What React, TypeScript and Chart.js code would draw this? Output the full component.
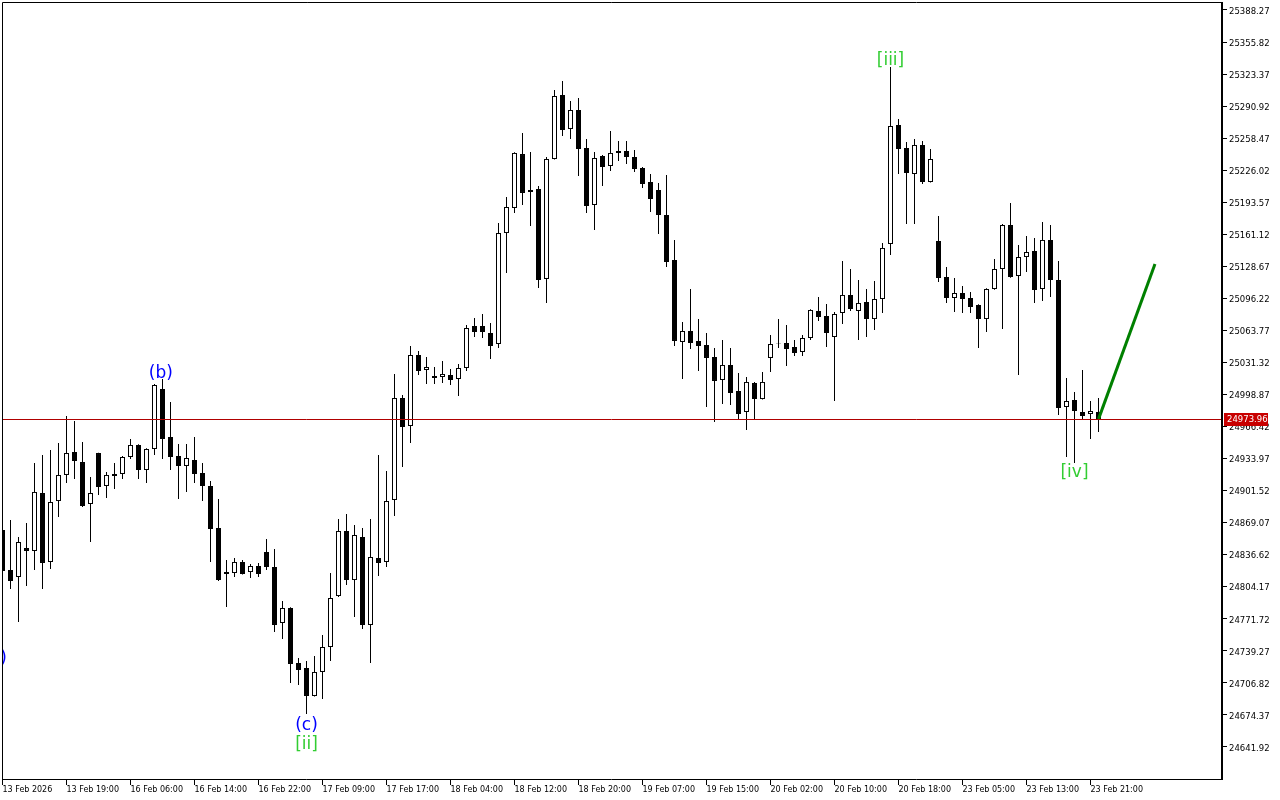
import React, { useEffect, useRef } from 'react';
import { Chart, registerables } from 'chart.js';
Chart.register(...registerables);

// Hourly candles, index 0 .. 137
const opens = [
  24861.7, 24821.2, 24814.1, 24843.4, 24840.4, 24899.1, 24829.3, 24891.0, 24917.4, 24940.7,
  24930.5, 24888.0, 24939.6, 24906.2, 24918.4, 24918.4, 24935.6, 24947.8, 24922.4, 24943.7,
  25004.5, 24955.9, 24936.6, 24926.5, 24932.6, 24919.4, 24906.2, 24863.7, 24817.1, 24818.1,
  24829.3, 24819.1, 24825.2, 24839.4, 24824.2, 24767.5, 24782.7, 24727.0, 24721.9, 24693.6,
  24717.9, 24743.2, 24794.8, 24860.7, 24811.0, 24854.6, 24765.5, 24833.3, 24829.3, 24892.1,
  24995.3, 24967.0, 25038.9, 25023.7, 25017.6, 25016.6, 25018.6, 25014.6, 25025.7, 25068.3,
  25068.3, 25061.2, 25050.0, 25162.4, 25187.8, 25242.4, 25206.0, 25207.0, 25115.9, 25237.4,
  25302.2, 25267.8, 25287.0, 25248.5, 25190.8, 25240.4, 25230.3, 25243.5, 25245.5, 25239.4,
  25228.3, 25214.1, 25206.0, 25180.7, 25135.1, 25052.1, 25063.2, 25053.1, 25049.0, 25036.9,
  25013.6, 25028.8, 25002.4, 24981.2, 25010.5, 24994.3, 25035.9, 25051.0, 25051.0, 25047.0,
  25041.9, 25056.1, 25083.5, 25078.4, 25057.1, 25081.4, 25099.7, 25083.5, 25092.6, 25075.3,
  25095.6, 25151.3, 25271.8, 25248.5, 25222.2, 25251.6, 25214.1, 25154.3, 25117.9, 25096.6,
  25101.7, 25096.6, 25089.5, 25075.3, 25105.7, 25126.0, 25170.5, 25118.9, 25138.1, 25144.2,
  25105.7, 25155.4, 25114.8, 24986.2, 24993.3, 24981.2, 24979.1, 24981.2,
];
const highs = [
  24866.7, 24871.8, 24854.6, 24868.8, 24929.5, 24937.6, 24942.7, 24949.8, 24977.1, 24972.1,
  24950.8, 24915.3, 24940.0, 24920.4, 24929.5, 24936.5, 24953.8, 24948.5, 24944.5, 25009.5,
  25014.6, 24991.3, 24948.8, 24948.8, 24955.9, 24929.5, 24911.3, 24893.1, 24831.3, 24833.3,
  24831.3, 24827.2, 24828.3, 24852.6, 24842.4, 24789.8, 24783.5, 24732.0, 24729.0, 24734.1,
  24755.3, 24818.1, 24872.8, 24877.9, 24866.7, 24863.7, 24872.8, 24937.6, 24921.4, 25019.7,
  24998.4, 25048.0, 25042.9, 25036.9, 25026.7, 25032.8, 25024.7, 25029.8, 25069.3, 25076.4,
  25080.4, 25071.3, 25172.6, 25198.9, 25244.3, 25263.7, 25244.5, 25210.0, 25239.4, 25307.3,
  25316.4, 25296.1, 25299.2, 25257.6, 25244.5, 25241.4, 25265.7, 25255.6, 25255.6, 25246.5,
  25229.3, 25222.2, 25213.1, 25221.2, 25155.4, 25072.3, 25105.7, 25075.3, 25061.2, 25046.0,
  25054.1, 25046.0, 25020.7, 25016.6, 25011.6, 25021.7, 25059.1, 25075.3, 25069.3, 25054.1,
  25059.1, 25085.3, 25097.6, 25090.5, 25082.4, 25134.1, 25126.0, 25114.8, 25105.7, 25113.8,
  25152.3, 25330.6, 25277.9, 25254.6, 25257.6, 25255.6, 25247.5, 25179.7, 25128.0, 25116.9,
  25108.8, 25102.7, 25090.3, 25106.5, 25136.1, 25171.6, 25192.8, 25150.3, 25159.4, 25157.4,
  25173.6, 25170.5, 25134.1, 25015.6, 25001.4, 25023.7, 24992.3, 24995.3,
];
const lows = [
  24816.1, 24801.9, 24768.5, 24805.0, 24821.2, 24801.9, 24822.2, 24874.8, 24909.3, 24913.3,
  24885.0, 24849.5, 24897.1, 24894.1, 24903.2, 24913.3, 24933.6, 24913.3, 24909.3, 24937.6,
  24933.6, 24922.4, 24893.1, 24900.2, 24909.3, 24891.0, 24829.3, 24810.0, 24783.7, 24814.1,
  24816.5, 24813.1, 24814.1, 24821.2, 24758.4, 24751.3, 24706.7, 24704.7, 24675.3, 24693.0,
  24690.5, 24729.0, 24793.8, 24806.0, 24773.6, 24761.4, 24727.0, 24815.1, 24824.2, 24875.8,
  24925.5, 24949.8, 25018.6, 25009.5, 25009.5, 25010.5, 25008.5, 24997.4, 25022.7, 25057.1,
  25056.1, 25034.8, 25046.0, 25121.9, 25182.7, 25190.8, 25169.5, 25106.7, 25091.6, 25236.8,
  25260.7, 25257.6, 25220.2, 25182.7, 25165.5, 25210.0, 25225.2, 25235.4, 25232.3, 25224.2,
  25208.0, 25183.7, 25161.4, 25128.0, 25048.0, 25014.6, 25045.0, 25022.7, 24986.2, 24971.0,
  24989.3, 24988.3, 24974.1, 24962.9, 24974.1, 24993.8, 25021.7, 25046.0, 25027.8, 25037.9,
  25037.9, 25054.1, 25073.3, 25047.0, 24992.3, 25070.3, 25083.5, 25054.1, 25057.1, 25064.2,
  25081.4, 25140.2, 25222.2, 25171.6, 25171.6, 25212.1, 25213.5, 25112.8, 25091.6, 25082.4,
  25081.4, 25081.4, 25046.0, 25062.2, 25105.0, 25065.2, 25117.2, 25018.6, 25122.9, 25091.6,
  25093.6, 25097.6, 24978.1, 24935.6, 24929.5, 24974.1, 24953.8, 24960.9,
];
const closes = [
  24820.2, 24810.0, 24849.5, 24840.4, 24900.2, 24828.3, 24890.0, 24917.4, 24939.6, 24931.5,
  24886.0, 24899.1, 24905.2, 24917.4, 24916.4, 24935.6, 24947.8, 24922.4, 24943.7, 25008.5,
  24953.8, 24935.6, 24926.5, 24934.6, 24918.4, 24906.2, 24862.7, 24811.0, 24819.1, 24829.3,
  24817.1, 24825.2, 24817.1, 24824.2, 24765.5, 24782.7, 24726.0, 24719.9, 24693.6, 24717.9,
  24743.2, 24792.8, 24860.7, 24811.0, 24856.6, 24765.5, 24834.3, 24828.3, 24891.0, 24995.3,
  24966.0, 25038.9, 25022.7, 25026.7, 25015.6, 25019.7, 25013.6, 25025.7, 25066.2, 25062.2,
  25062.2, 25048.0, 25162.4, 25188.8, 25243.5, 25203.0, 25204.0, 25114.8, 25237.4, 25301.2,
  25266.7, 25287.0, 25247.5, 25189.8, 25238.4, 25229.3, 25243.5, 25245.5, 25239.4, 25227.3,
  25212.1, 25196.9, 25180.7, 25133.1, 25053.1, 25063.2, 25051.0, 25048.0, 25035.9, 25012.6,
  25028.8, 25000.4, 24979.1, 25011.6, 24994.3, 25011.6, 25050.0, 25050.5, 25045.0, 25040.9,
  25056.1, 25084.5, 25077.4, 25061.2, 25080.4, 25099.7, 25085.5, 25091.6, 25075.3, 25095.6,
  25147.3, 25270.8, 25247.5, 25223.2, 25251.6, 25214.1, 25237.4, 25116.9, 25096.6, 25101.7,
  25095.6, 25087.5, 25075.3, 25105.7, 25126.0, 25170.5, 25117.9, 25138.1, 25143.2, 25104.7,
  25155.4, 25114.8, 24985.2, 24992.3, 24982.2, 24977.1, 24982.2, 24973.96,
];

const xTickIndex = [0, 8, 16, 24, 32, 40, 48, 56, 64, 72, 80, 88, 96, 104, 112, 120, 128, 136];
const xTickLabels = [
  '13 Feb 2026', '13 Feb 19:00', '16 Feb 06:00', '16 Feb 14:00', '16 Feb 22:00', '17 Feb 09:00',
  '17 Feb 17:00', '18 Feb 04:00', '18 Feb 12:00', '18 Feb 20:00', '19 Feb 07:00', '19 Feb 15:00',
  '20 Feb 02:00', '20 Feb 10:00', '20 Feb 18:00', '23 Feb 05:00', '23 Feb 13:00', '23 Feb 21:00',
];
const yTickValues = [
  25388.27, 25355.82, 25323.37, 25290.92, 25258.47, 25226.02, 25193.57, 25161.12, 25128.67, 25096.22,
  25063.77, 25031.32, 24998.87, 24966.42, 24933.97, 24901.52, 24869.07, 24836.62, 24804.17, 24771.72,
  24739.27, 24706.82, 24674.37, 24641.92,
];
const xMin = -0.0625;
const xMax = 152.3125;
const yMin = 24609.51;
const yMax = 25396.37;

const currentPrice = 24973.96;
const forecastX = [137, 144.06];
const forecastY = [24973.96, 25131.0];

const waveText = ['(a)', '(b)', '(c)', '[ii]', '[iii]', '[iv]'];
const waveX = [-0.94, 19.8, 38, 38, 111, 134];
const waveY = [24731.6, 25020.2, 24663.7, 24644.5, 25337.2, 24919.9];
const waveKind = ['minor', 'minor', 'minor', 'major', 'major', 'major'];

const BLUE = '#0000ff';
const GREEN = '#32cd32';

const overlayPlugin = {
  id: 'mtOverlay',
  afterDatasetsDraw(chart: any) {
    const { ctx, chartArea, scales } = chart;
    const { left, top, right, bottom } = chartArea;
    const y = scales.y;
    const x = scales.x;
    ctx.save();
    const py = Math.round(y.getPixelForValue(currentPrice)) + 0.5;
    ctx.strokeStyle = '#b00000';
    ctx.lineWidth = 1;
    ctx.beginPath();
    ctx.moveTo(left, py);
    ctx.lineTo(right, py);
    ctx.stroke();

    ctx.beginPath();
    ctx.rect(left, top, right - left, bottom - top);
    ctx.clip();
    ctx.font = '17px "DejaVu Sans"';
    ctx.textAlign = 'center';
    ctx.textBaseline = 'middle';
    for (let i = 0; i < waveText.length; i++) {
      ctx.fillStyle = waveKind[i] === 'minor' ? BLUE : GREEN;
      ctx.fillText(waveText[i], x.getPixelForValue(waveX[i]), y.getPixelForValue(waveY[i]));
    }
    ctx.restore();
  },
  afterDraw(chart: any) {
    const { ctx, chartArea, scales } = chart;
    const { left, top, right, bottom } = chartArea;
    const y = scales.y;
    ctx.save();
    ctx.strokeStyle = '#000';
    ctx.lineWidth = 1;
    ctx.beginPath();
    ctx.moveTo(left + 0.5, bottom + 0.5);
    ctx.lineTo(left + 0.5, top + 0.5);
    ctx.lineTo(right, top + 0.5);
    ctx.moveTo(left, bottom + 0.5);
    ctx.lineTo(right, bottom + 0.5);
    ctx.stroke();
    ctx.fillStyle = '#000';
    ctx.fillRect(right, top, 2, bottom - top + 1);

    const py = Math.round(y.getPixelForValue(currentPrice));
    ctx.fillStyle = '#c80000';
    ctx.fillRect(right + 3, py - 6, 44, 13);
    ctx.fillStyle = '#fff';
    ctx.font = '8.5px "DejaVu Sans"';
    ctx.textAlign = 'left';
    ctx.textBaseline = 'middle';
    ctx.fillText(currentPrice.toFixed(2), right + 6, py + 1);
    ctx.restore();
  },
};

export default function App() {
  const ref = useRef<HTMLCanvasElement | null>(null);
  useEffect(() => {
    const canvas = ref.current;
    if (!canvas) return;
    const wickData = lows.map((l, i) => ({ x: i, y: [l, highs[i]] }));
    const bodyData = opens.map((o, i) => ({ x: i, y: [o, closes[i]] }));
    const bodyFill = opens.map((o, i) => (closes[i] > o ? '#ffffff' : '#000000'));
    const chart = new Chart(canvas, {
      type: 'bar',
      data: {
        datasets: [
          {
            type: 'line',
            label: 'forecast',
            data: forecastX.map((v, i) => ({ x: v, y: forecastY[i] })),
            borderColor: '#008000',
            borderWidth: 3,
            pointRadius: 0,
            order: 0,
          } as any,
          {
            type: 'bar',
            label: 'body',
            data: bodyData as any,
            backgroundColor: bodyFill,
            borderColor: '#000000',
            borderWidth: 1,
            borderSkipped: false,
            barThickness: 5,
            grouped: false,
            inflateAmount: 0,
            order: 1,
          } as any,
          {
            type: 'bar',
            label: 'wick',
            data: wickData as any,
            backgroundColor: '#000000',
            borderWidth: 0,
            barThickness: 1,
            grouped: false,
            inflateAmount: 0,
            order: 2,
          } as any,
        ],
      },
      options: {
        animation: false,
        responsive: false,
        maintainAspectRatio: false,
        events: [],
        layout: { padding: { left: 2, top: 2, right: 0, bottom: 0 } },
        plugins: { legend: { display: false }, tooltip: { enabled: false } },
        scales: {
          x: {
            type: 'linear',
            min: xMin,
            max: xMax,
            offset: false,
            afterBuildTicks: (s: any) => {
              s.ticks = xTickIndex.map((v) => ({ value: v }));
            },
            afterFit: (s: any) => {
              s.height = 21;
              s.paddingLeft = 0;
              s.paddingRight = 0;
            },
            ticks: {
              autoSkip: false,
              maxRotation: 0,
              minRotation: 0,
              align: 'start',
              padding: 0,
              color: '#000',
              font: { family: 'DejaVu Sans', size: 8 },
              callback: (_v: any, idx: number) => xTickLabels[idx],
            },
            grid: { display: true, drawOnChartArea: false, drawTicks: true, tickLength: 6, color: '#000', offset: false },
            border: { display: false },
          },
          y: {
            type: 'linear',
            position: 'right',
            min: yMin,
            max: yMax,
            afterBuildTicks: (s: any) => {
              s.ticks = yTickValues.map((v) => ({ value: v }));
            },
            afterFit: (s: any) => {
              s.width = 59;
              s.paddingTop = 0;
              s.paddingBottom = 0;
            },
            ticks: {
              autoSkip: false,
              padding: 2,
              labelOffset: 1.5,
              color: '#000',
              font: { family: 'DejaVu Sans', size: 8.5 },
              callback: (v: any) => Number(v).toFixed(2),
            },
            grid: { display: true, drawOnChartArea: false, drawTicks: true, tickLength: 6, color: '#000' },
            border: { display: false },
          },
        },
      } as any,
      plugins: [overlayPlugin],
    });
    return () => chart.destroy();
  }, []);
  return (
    <div style={{ position: 'fixed', left: 0, top: 0, width: 1280, height: 800, background: '#fff' }}>
      <canvas ref={ref} width={1280} height={800} style={{ display: 'block', width: 1280, height: 800 }} />
    </div>
  );
}
